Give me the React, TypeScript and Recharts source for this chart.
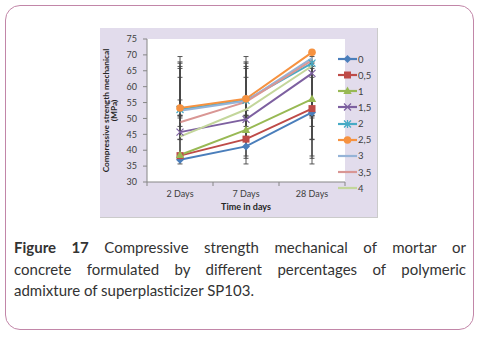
import React from "react";
import { LineChart, Line, XAxis, YAxis, CartesianGrid, ErrorBar, Legend } from "recharts";

const categories = ["2 Days", "7 Days", "28 Days"];
const seriesNames = ["0", "0,5", "1", "1,5", "2", "2,5", "3", "3,5", "4"];

const s0 = [37.0, 41.2, 51.9];
const s05 = [38.3, 43.5, 53.1];
const s1 = [38.5, 46.4, 56.1];
const s15 = [45.7, 49.7, 64.2];
const s2 = [52.8, 55.7, 67.4];
const s25 = [53.3, 56.2, 70.8];
const s3 = [52.4, 55.5, 69.0];
const s35 = [48.8, 55.2, 68.3];
const s4 = [44.3, 52.8, 66.5];

const seriesValues = [s0, s05, s1, s15, s2, s25, s3, s35, s4];
const seriesColors = ["#4a7ebb", "#be4b48", "#98b954", "#7d60a0", "#46aac5", "#f69240", "#95b3d7", "#d99694", "#c3d69b"];
const seriesMarkers = ["diamond", "square", "triangle", "x", "star", "circle", "none", "none", "none"];
const yTicks = [30, 35, 40, 45, 50, 55, 60, 65, 70, 75];

const FONT = "Lato, 'Open Sans', sans-serif";

// Excel "standard deviation" error bars: centred on the series mean, same length at every point
function stdBars(vals: number[]) {
  const m = vals.reduce((a, b) => a + b, 0) / vals.length;
  const sd = Math.sqrt(vals.reduce((a, b) => a + (b - m) * (b - m), 0) / (vals.length - 1));
  return vals.map((v) => [v - (m - sd), m + sd - v]);
}

const errors = seriesValues.map(stdBars);

const data = categories.map((name, i) => {
  const row: any = { x: i + 0.5, name };
  seriesValues.forEach((vals, k) => {
    row["s" + k] = vals[i];
    row["e" + k] = errors[k][i];
  });
  return row;
});

function Marker({ cx, cy, shape, color }: any) {
  if (cx == null || cy == null) return <g />;
  switch (shape) {
    case "diamond":
      return <path d={`M${cx},${cy - 4}L${cx + 4},${cy}L${cx},${cy + 4}L${cx - 4},${cy}Z`} fill={color} />;
    case "square":
      return <rect x={cx - 3.5} y={cy - 3.5} width={7} height={7} fill={color} />;
    case "triangle":
      return <path d={`M${cx},${cy - 4.5}L${cx + 4.2},${cy + 3}L${cx - 4.2},${cy + 3}Z`} fill={color} />;
    case "x":
      return (
        <path
          d={`M${cx - 3.5},${cy - 3.5}L${cx + 3.5},${cy + 3.5}M${cx - 3.5},${cy + 3.5}L${cx + 3.5},${cy - 3.5}`}
          stroke={color}
          strokeWidth={1.2}
          fill="none"
        />
      );
    case "star":
      return (
        <path
          d={`M${cx - 3.5},${cy - 3.5}L${cx + 3.5},${cy + 3.5}M${cx - 3.5},${cy + 3.5}L${cx + 3.5},${cy - 3.5}M${cx},${cy - 4}L${cx},${cy + 4}`}
          stroke={color}
          strokeWidth={1.2}
          fill="none"
        />
      );
    case "circle":
      return <circle cx={cx} cy={cy} r={3.8} fill={color} />;
    default:
      return <g />;
  }
}

function XTick({ x, y, payload }: any) {
  const v = payload.value;
  if (Number.isInteger(v)) {
    return <line x1={x} x2={x} y1={y} y2={y + 4} stroke="#868686" />;
  }
  return (
    <text x={x} y={y + 15} textAnchor="middle" fontSize={9} fontFamily={FONT} fill="#404040">
      {categories[Math.floor(v)]}
    </text>
  );
}

function LegendBox() {
  return (
    <div style={{ fontFamily: FONT, fontSize: 9.5, color: "#404040" }}>
      {seriesNames.map((n, k) => (
        <div key={n} style={{ height: 16.15, display: "flex", alignItems: "center" }}>
          <svg width={21} height={10} style={{ display: "block" }}>
            <line x1={1} x2={20} y1={5} y2={5} stroke={seriesColors[k]} strokeWidth={2.2} />
            <Marker cx={10.5} cy={5} shape={seriesMarkers[k]} color={seriesColors[k]} />
          </svg>
          <span style={{ marginLeft: 0 }}>{n}</span>
        </div>
      ))}
    </div>
  );
}

export default function App() {
  return (
    <div style={{ position: "absolute", left: 0, top: 0, width: 478, height: 337, background: "#fff" }}>
      <div
        style={{
          position: "absolute",
          left: 5,
          top: 5,
          width: 467,
          height: 323,
          border: "1.5px solid #c286a8",
          borderRadius: 15,
        }}
      />
      <div
        style={{
          position: "absolute",
          left: 100,
          top: 28,
          width: 277,
          height: 189,
          background: "#e2dcec",
          borderRight: "1.5px solid #cbcbcb",
          borderBottom: "1.5px solid #cbcbcb",
        }}
      >
        <LineChart width={278} height={190} data={data} margin={{ top: 11, right: 33, bottom: 0, left: 0 }}>
          <CartesianGrid horizontal={false} vertical={false} fill="#ffffff" />
          <XAxis
            dataKey="x"
            type="number"
            domain={[0, 3]}
            ticks={[0, 0.5, 1, 1.5, 2, 2.5, 3]}
            interval={0}
            height={36}
            tickSize={0}
            tickMargin={0}
            tickLine={false}
            axisLine={{ stroke: "#868686" }}
            tick={<XTick />}
            label={{
              content: ({ viewBox }: any) => (
                <text
                  x={viewBox.x + viewBox.width / 2}
                  y={viewBox.y + 28}
                  textAnchor="middle"
                  fontSize={9}
                  fontWeight="bold"
                  fontFamily={FONT}
                  fill="#262626"
                >
                  Time in days
                </text>
              ),
            }}
          />
          <YAxis
            domain={[30, 75]}
            ticks={yTicks}
            interval={0}
            width={47}
            tickSize={4}
            tickMargin={6}
            axisLine={{ stroke: "#868686" }}
            tickLine={{ stroke: "#868686" }}
            tick={{ fontSize: 9, fontFamily: FONT, fill: "#404040" }}
            label={{
              content: ({ viewBox }: any) => {
                const cy = viewBox.y + viewBox.height / 2;
                return (
                  <g fontSize={8.3} fontWeight="bold" fontFamily={FONT} fill="#262626">
                    <text x={9} y={cy} transform={`rotate(-90, 9, ${cy})`} textAnchor="middle">
                      Compressive strength mechanical
                    </text>
                    <text x={17} y={cy} transform={`rotate(-90, 17, ${cy})`} textAnchor="middle">
                      (MPa)
                    </text>
                  </g>
                );
              },
            }}
          />
          <Legend
            layout="vertical"
            align="center"
            verticalAlign="middle"
            wrapperStyle={{ left: 237, top: 23, width: 45 }}
            content={() => <LegendBox />}
          />
          {seriesNames.map((n, k) => (
            <Line
              key={n}
              name={n}
              dataKey={"s" + k}
              stroke={seriesColors[k]}
              strokeWidth={2}
              isAnimationActive={false}
              dot={(p: any) => (
                <Marker key={"d" + k + "-" + p.index} cx={p.cx} cy={p.cy} shape={seriesMarkers[k]} color={seriesColors[k]} />
              )}
              activeDot={false}
            >
              <ErrorBar dataKey={"e" + k} width={2.5} stroke="#444444" strokeWidth={0.9} isAnimationActive={false} />
            </Line>
          ))}
        </LineChart>
      </div>
      <div
        style={{
          position: "absolute",
          left: 14,
          top: 237,
          width: 452,
          fontFamily: FONT,
          fontSize: 15,
          lineHeight: "21.5px",
          color: "#333",
        }}
      >
        <div style={{ textAlign: "justify", textAlignLast: "justify", whiteSpace: "nowrap" as any }}>
          <b>Figure 17</b> Compressive strength mechanical of mortar or
        </div>
        <div style={{ textAlign: "justify", textAlignLast: "justify" }}>
          concrete formulated by different percentages of polymeric
        </div>
        <div>admixture of superplasticizer SP103.</div>
      </div>
    </div>
  );
}
